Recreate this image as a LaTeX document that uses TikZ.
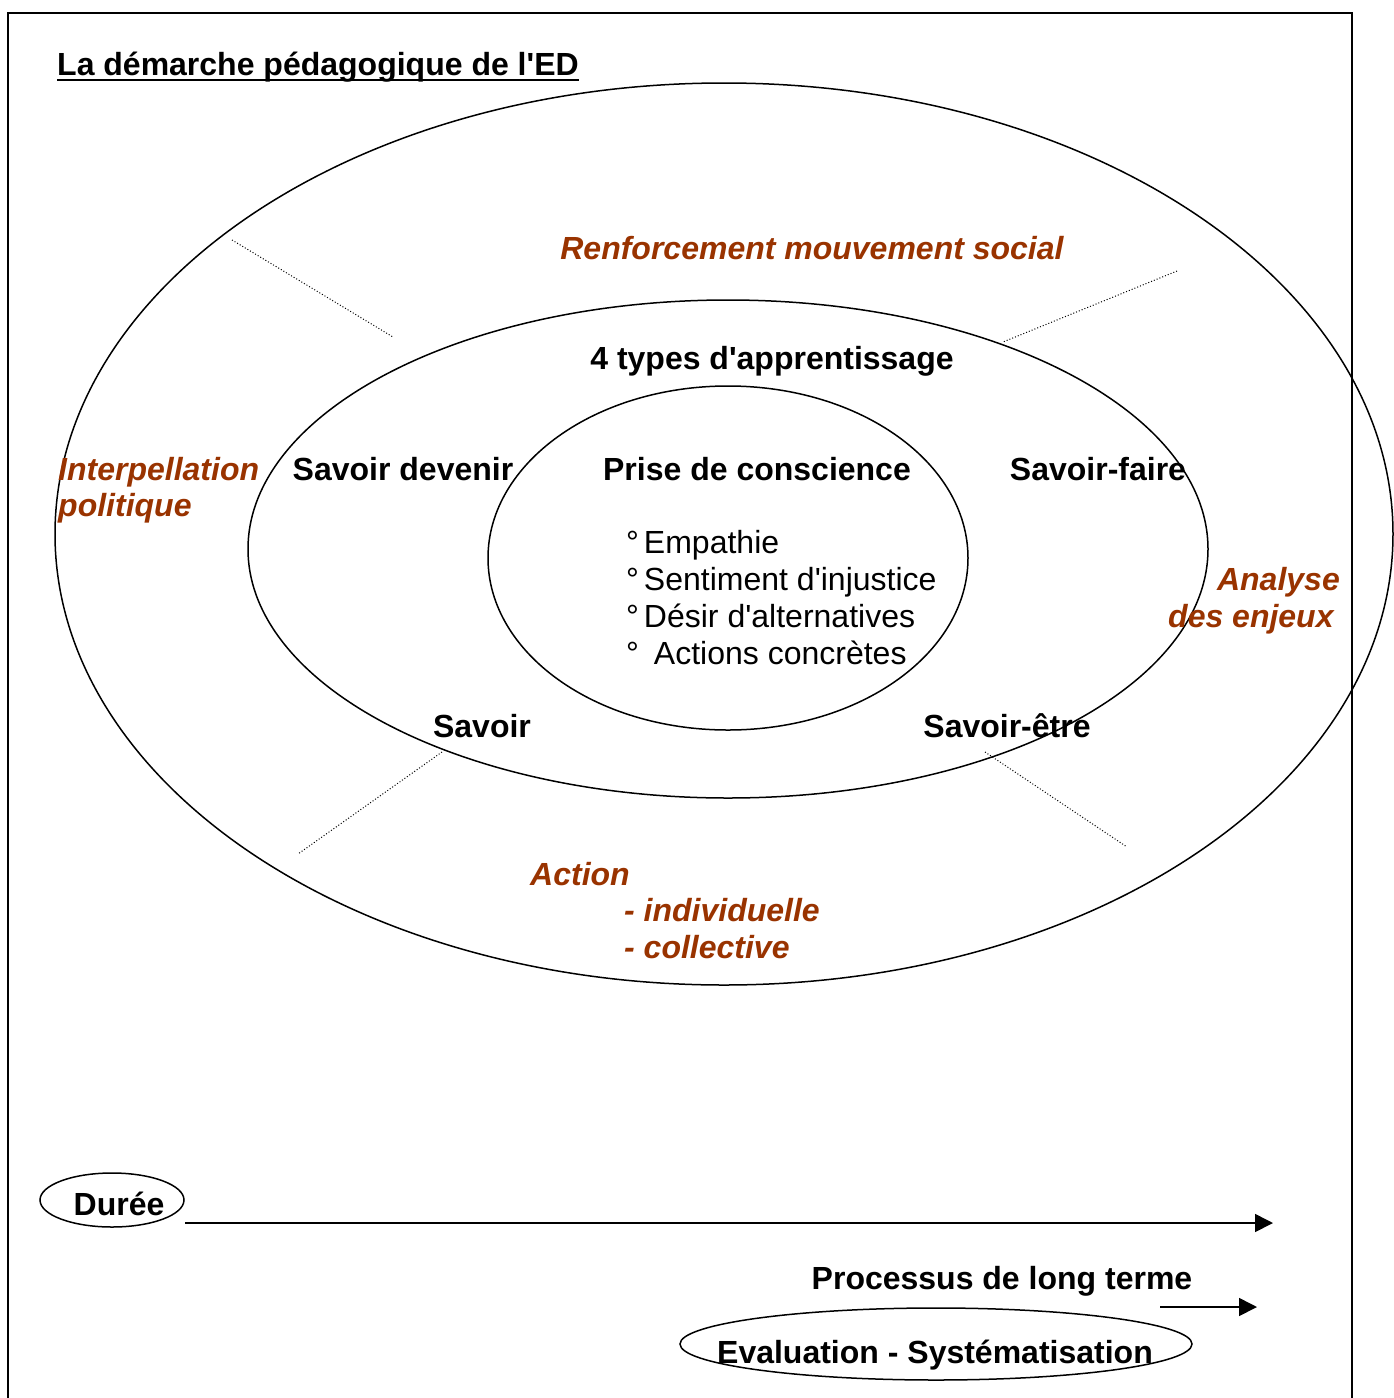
\documentclass[tikz,border=0pt]{standalone}
\usepackage{fontspec}
\setmainfont{Liberation Sans}
\usetikzlibrary{arrows.meta}
\definecolor{rust}{RGB}{153,51,0}
\newcommand{\ap}{\textquotesingle}
\tikzset{
  lbl/.style={inner sep=0pt, font=\fontsize{32}{38}\selectfont\bfseries},
  rlbl/.style={inner sep=0pt, font=\fontsize{32}{38}\selectfont},
  red/.style={inner sep=0pt, text=rust, font=\fontsize{32}{38}\selectfont\bfseries\itshape},
  ring/.style={draw=black, line width=1.5pt},
  sep/.style={draw=black, dotted, line width=1pt},
  arr/.style={draw=black, line width=1.6pt, -{Triangle[length=18pt,width=18pt]}}
}
\begin{document}
\begin{tikzpicture}[x=1pt,y=-1pt]
\useasboundingbox (0,0) rectangle (1394,1398);
\draw[line width=2pt] (8,13) rectangle (1352,1420);
% ellipses
\draw[ring] (724,534) ellipse [x radius=669, y radius=451];
\draw[ring] (728,549) ellipse [x radius=480, y radius=249];
\draw[ring] (728,558) ellipse [x radius=240, y radius=172];
% dotted separators
\coordinate (d1a) at (232,240); \coordinate (d1b) at (393,337);
\coordinate (d2a) at (1177,271); \coordinate (d2b) at (1003,342);
\coordinate (d3a) at (442,752); \coordinate (d3b) at (298,854);
\coordinate (d4a) at (985,752); \coordinate (d4b) at (1127,847);
\draw[sep] (d1a) -- (d1b);
\draw[sep] (d2a) -- (d2b);
\draw[sep] (d3a) -- (d3b);
\draw[sep] (d4a) -- (d4b);
% texts
\node[lbl, anchor=base west] (title) at (57,75) {La démarche pédagogique de l\ap ED};
\draw[line width=2.6pt] ([yshift=-5pt]title.base west) -- ([yshift=-5pt]title.base east);
\node[red, anchor=base] (renf) at (812,259) {Renforcement mouvement social};
\node[lbl, anchor=base] (types) at (772,369) {4 types d\ap apprentissage};
\node[red, anchor=base west] (interp1) at (58,480) {Interpellation};
\node[red, anchor=base west] (interp2) at (58,516) {politique};
\node[lbl, anchor=base] (sdev) at (403,480) {Savoir devenir};
\node[lbl, anchor=base] (prise) at (757,480) {Prise de conscience};
\node[lbl, anchor=base] (sfaire) at (1098,480) {Savoir-faire};
\node[rlbl, anchor=base west] (b1) at (626,553) {°\hspace{5pt}Empathie};
\node[rlbl, anchor=base west] (b2) at (626,590) {°\hspace{5pt}Sentiment d\ap injustice};
\node[rlbl, anchor=base west] (b3) at (626,627) {°\hspace{5pt}Désir d\ap alternatives};
\node[rlbl, anchor=base west] (b4) at (626,664) {°\hspace{15pt}Actions concrètes};
\node[red, anchor=base east] (an1) at (1340,590) {Analyse};
\node[red, anchor=base west] (an2) at (1168,627) {des enjeux};
\node[lbl, anchor=base] (savoir) at (482,737) {Savoir};
\node[lbl, anchor=base] (setre) at (1007,737) {Savoir-être};
\node[red, anchor=base west] (act1) at (530,885) {Action};
\node[red, anchor=base west] (act2) at (624,921) {- individuelle};
\node[red, anchor=base west] (act3) at (624,958) {- collective};
% bottom
\draw[line width=1.5pt] (112,1200) ellipse [x radius=72, y radius=27];
\node[lbl, anchor=base] (duree) at (119,1215) {Durée};
\coordinate (da) at (185,1223); \coordinate (db) at (1273,1223);
\draw[arr] (da) -- (db);
\node[lbl, anchor=base] (proc) at (1002,1289) {Processus de long terme};
\coordinate (pa) at (1160,1307); \coordinate (pb) at (1257,1307);
\draw[arr] (pa) -- (pb);
\draw[line width=1.5pt] (936,1344) ellipse [x radius=256, y radius=36];
\node[lbl, anchor=base] (eval) at (935,1363) {Evaluation - Systématisation};
\end{tikzpicture}
\end{document}
